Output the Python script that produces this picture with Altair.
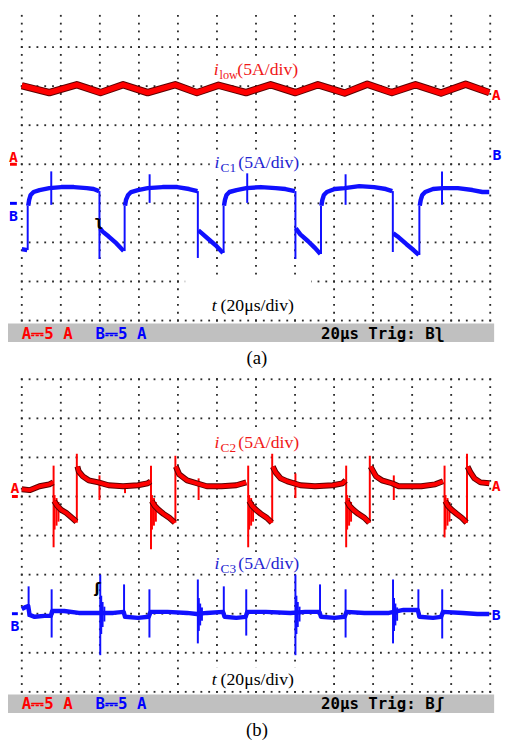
import altair as alt
import pandas as pd

# ---------------- oscilloscope screen ----------------
US_PER_DIV = 20            # time base, us/div
A_PER_DIV = 5.0            # both channels, A/div
N_HDIV, N_VDIV, MINOR = 12, 8, 5
X_DOMAIN = [-7.06, 242.0]  # us across the page width
PANEL_W = 494
H_A, H_B = 364, 377
YDOM_A = [-5.320, 3.849]   # screen divisions (0 = centre line)
YDOM_B = [-5.312, 4.184]
ZERO_A = {"A": 0.0, "B": -1.0}   # channel zero levels, capture (a)
ZERO_B = {"A": 1.0, "B": -2.0}   # channel zero levels, capture (b)

RED, DARKRED, BLUE = "#ff0000", "#5a0000", "#1010ff"
LBL_RED, LBL_BLUE = "#f01818", "#2424d0"
SERIF, MONO = "Liberation Serif", "DejaVu Sans Mono"

# ---------------- capture (a) ----------------
ilow_t = [0, 14.1, 28.2, 40.3, 51.9, 64.5, 78.6, 89.7, 100.8, 114.9, 127.5, 140.2,
          151.7, 165.4, 177.0, 189.6, 201.7, 214.8, 227.4, 239.5]
ilow_a = [10.05, 9.17, 10.18, 9.17, 10.18, 9.17, 10.18, 9.17, 10.11, 9.17, 10.18, 9.17,
          10.18, 9.11, 10.24, 9.17, 10.18, 9.11, 10.24, 9.17]

ic1_t = [0, 2.77,
         3.28, 3.78, 4.54, 6.05, 9.08, 14.1, 20.2, 26.7, 33.3, 36.8, 39.6,
         40.1, 41.3, 44.4, 48.4, 52.2,
         52.9, 53.4, 54.5, 56.0, 59.5, 64.5, 72.1, 79.7, 85.7, 90.0,
         90.5, 92.3, 96.3, 99.8, 103.1,
         103.6, 104.1, 104.9, 106.4, 110.0, 115.0, 122.5, 130.1, 135.1, 139.9,
         140.4, 142.7, 146.7, 150.3, 153.0,
         153.5, 154.0, 154.8, 156.3, 160.3, 165.4, 172.9, 180.5, 186.5, 189.8,
         190.3, 193.1, 197.1, 200.7, 203.4,
         203.9, 204.4, 205.2, 206.7, 210.7, 215.8, 223.4, 230.9, 236.0, 239.5]
ic1_a = [-5.86, -5.98,
         -0.31, 0.44, 1.07, 1.45, 1.70, 1.95, 2.08, 2.08, 1.95, 1.83, 1.57,
         -3.21, -3.59, -4.22, -5.10, -6.11,
         -0.31, 0.44, 1.07, 1.45, 1.70, 1.95, 2.08, 2.08, 1.83, 1.57,
         -3.46, -3.84, -4.72, -5.48, -6.36,
         -0.31, 0.44, 1.07, 1.45, 1.70, 1.95, 2.08, 1.95, 1.83, 1.57,
         -3.21, -3.97, -4.85, -5.73, -6.49,
         -0.31, 0.44, 1.07, 1.45, 1.83, 1.95, 2.20, 2.08, 1.83, 1.57,
         -3.84, -4.35, -5.23, -5.98, -6.61,
         -0.31, 0.44, 1.07, 1.45, 1.83, 1.95, 1.95, 1.70, 1.45, 1.45]
ic1_seg_len = [2, 11, 5, 10, 5, 10, 5, 10, 5, 10]
ic1_edge_t = [3.03, 15.1, 39.8, 52.7, 65.5, 90.2, 103.4, 115.5, 140.2, 153.3, 165.9, 190.1, 203.7, 215.3]
ic1_edge_hi = [-0.31, 4.09, 1.57, -0.31, 3.72, 1.57, -0.31, 3.84, 1.57, -0.31, 3.72, 1.57, -0.31, 4.09]
ic1_edge_lo = [-5.98, -0.19, -7.12, -6.11, 0.06, -6.99, -6.36, 0.06, -7.12, -6.49, -0.19, -6.23, -6.61, -0.19]

# ---------------- capture (b) ----------------
ic2_t = [0, 4.03, 9.08, 14.1, 16.1,
         16.6, 18.2, 20.2, 22.7, 25.7, 28.0,
         28.5, 29.2, 31.3, 34.3, 39.3, 44.4, 51.9, 59.5, 64.5, 66.0,
         66.6, 68.1, 70.1, 72.6, 75.6, 78.4,
         78.9, 80.7, 84.7, 89.7, 94.8, 102.4, 109.9, 115.0,
         116.5, 118.0, 120.0, 122.5, 125.5, 128.1,
         128.6, 130.1, 132.6, 136.1, 142.7, 150.2, 159.3, 164.4, 165.9,
         166.6, 167.9, 169.9, 172.4, 175.5, 178.0,
         178.7, 181.5, 184.5, 189.6, 193.1, 204.7, 211.8, 215.8,
         217.0, 218.3, 220.3, 222.8, 225.4, 227.9,
         228.4, 229.9, 231.9, 235.0, 239.5]
ic2_a = [0.93, 0.81, 1.31, 1.56, 1.81,
         -0.58, -1.21, -1.71, -2.09, -2.72, -3.22,
         3.83, 3.20, 2.57, 2.07, 1.81, 1.44, 1.31, 1.44, 1.69, 1.94,
         -0.58, -1.21, -1.71, -2.22, -2.72, -3.35,
         3.83, 2.82, 2.07, 1.69, 1.31, 1.31, 1.44, 1.81,
         -0.58, -1.21, -1.71, -2.22, -2.72, -3.35,
         3.83, 3.07, 2.32, 1.94, 1.44, 1.31, 1.44, 1.69, 2.07,
         -0.58, -1.21, -1.71, -2.22, -2.72, -3.35,
         3.83, 2.57, 2.07, 1.69, 1.31, 1.31, 1.56, 1.94,
         -0.58, -1.21, -1.71, -2.22, -2.72, -3.35,
         3.83, 3.07, 2.32, 1.81, 1.69]
ic2_seg_len = [5, 6, 10, 6, 8, 6, 9, 6, 8, 6, 5]
ic2_edge_t = [16.3, 28.2, 39.8, 52.9, 66.2, 78.7, 90.6, 116.0, 128.3, 140.2, 166.2, 178.3, 190.6, 216.6, 228.1]
ic2_edge_hi = [3.95, 5.47, 2.70, 1.31, 3.95, 5.21, 2.32, 3.95, 5.47, 2.95, 3.95, 5.21, 2.70, 3.95, 5.47]
ic2_edge_lo = [-6.50, -3.35, -0.45, 0.43, -6.75, -3.35, -0.45, -6.50, -3.35, -0.20, -6.50, -3.35, -0.45, -5.24, -3.35]
ic2_ring_t = [16.8, 17.8, 18.8, 66.7, 67.7, 68.7, 116.5, 117.5, 118.5, 166.7, 167.7, 168.7, 217.1, 218.1, 219.1]
ic2_ring_hi = [0.18, -0.20, -0.70, 0.18, -0.20, -0.70, 0.18, -0.20, -0.70, 0.18, -0.20, -0.70, 0.18, -0.20, -0.70]
ic2_ring_lo = [-4.23, -3.73, -3.22, -4.23, -3.73, -3.22, -4.23, -3.73, -3.22, -4.23, -3.73, -3.22, -4.23, -3.73, -3.22]

ic3_t = [0, 2.0, 3.3, 4.0, 6.6, 11.6, 14.9, 15.6, 21.7, 29.2, 39.3, 46.9, 52.2, 52.9, 59.5,
         65.0, 66.0, 74.6, 84.7, 89.7, 94.8, 103.1, 103.9, 109.9, 114.7, 115.5, 125.0, 137.6,
         145.2, 152.5, 153.3, 160.3, 165.4, 166.4, 175.5, 188.1, 195.6, 202.9, 203.7, 210.7,
         214.8, 215.8, 225.9, 233.4, 239.5]
ic3_a = [0.60, 0.86, 0.98, -0.15, -0.40, -0.28, -0.28, 0.35, 0.35, 0.10, 0.10, 0.10, 0.23, -0.40, -0.53,
         -0.40, 0.23, 0.23, 0.10, -0.03, 0.10, 0.23, -0.40, -0.53, -0.40, 0.23, 0.23, 0.10,
         0.23, 0.23, -0.40, -0.53, -0.40, 0.23, 0.10, 0.10, 0.48, 0.48, -0.40, -0.53,
         -0.40, 0.23, 0.10, -0.03, -0.03]
ic3_spk_t = [3.5, 15.3, 40.2, 52.4, 65.4, 90.2, 103.5, 115.0, 140.2, 152.8, 165.9, 190.2, 203.2, 215.4]
ic3_spk_hi = [3.50, 3.12, 5.01, 3.75, 3.12, 4.38, 3.50, 3.12, 5.01, 3.75, 3.12, 4.38, 3.12, 3.12]
ic3_spk_lo = [-0.40, -3.05, -5.31, -0.45, -3.05, -3.80, -0.45, -2.80, -5.31, -0.45, -3.05, -3.80, -0.45, -3.17]
ic3_ring_t = [40.7, 41.4, 42.3, 90.7, 91.4, 92.3, 140.7, 141.4, 142.3, 190.7, 191.4, 192.3]
ic3_ring_hi = [2.3, 1.5, 0.9, 2.0, 1.3, 0.8, 2.3, 1.5, 0.9, 2.0, 1.3, 0.8]
ic3_ring_lo = [-2.6, -1.7, -1.0, -2.2, -1.5, -0.9, -2.6, -1.7, -1.0, -2.2, -1.5, -0.9]


# ---------------- helpers ----------------
def enc(ydom):
    return dict(
        x=alt.X("t:Q", scale=alt.Scale(domain=X_DOMAIN, nice=False, zero=False), axis=None),
        y=alt.Y("ys:Q", scale=alt.Scale(domain=ydom, nice=False, zero=False), axis=None),
    )


def dots(ydom):
    step = US_PER_DIV / MINOR
    rows = [dict(t=i * step, ys=d - N_VDIV / 2) for d in range(N_VDIV + 1) for i in range(N_HDIV * MINOR + 1)]
    cols = [dict(t=c * US_PER_DIV, ys=-N_VDIV / 2 + j / MINOR) for c in range(N_HDIV + 1) for j in range(N_VDIV * MINOR + 1)]
    df = pd.DataFrame(rows + cols)
    df = df[(df.ys <= ydom[1]) & (df.ys >= ydom[0])]
    return alt.Chart(df).mark_square(size=3.5, color="#2a2a2a", opacity=1).encode(**enc(ydom))


def seg_ids(lengths):
    out = []
    for k, n in enumerate(lengths):
        out += [k] * n
    return out


def trace(t, a, zero, ydom, color, width, seg=None, outline=None):
    df = pd.DataFrame({"t": t, "ys": [zero + v / A_PER_DIV for v in a],
                       "seg": seg if seg is not None else [0] * len(t)})
    layers = []
    if outline:
        layers.append(alt.Chart(df).mark_line(color=outline, strokeWidth=width + 2, strokeJoin="round")
                      .encode(detail="seg:N", **enc(ydom)))
    layers.append(alt.Chart(df).mark_line(color=color, strokeWidth=width, strokeJoin="round")
                  .encode(detail="seg:N", **enc(ydom)))
    return layers


def spikes(t, hi, lo, zero, ydom, color, width=1.8):
    df = pd.DataFrame({"t": t, "ys": [zero + v / A_PER_DIV for v in hi],
                       "ys2": [zero + v / A_PER_DIV for v in lo]})
    return alt.Chart(df).mark_rule(color=color, strokeWidth=width).encode(y2="ys2:Q", **enc(ydom))


def box(t0, t1, y0, y1, ydom, color="white"):
    df = pd.DataFrame({"t": [t0], "t2": [t1], "ys": [y0], "ys2": [y1]})
    return alt.Chart(df).mark_rect(color=color).encode(x2="t2:Q", y2="ys2:Q", **enc(ydom))


def hline(t0, t1, y, ydom, color, width=3):
    df = pd.DataFrame({"t": [t0], "t2": [t1], "ys": [y]})
    return alt.Chart(df).mark_rule(color=color, strokeWidth=width).encode(x2="t2:Q", **enc(ydom))


def piece(t, ys, text, ydom, dx=0, dy=0, size=18, style="normal", color="black",
          font=SERIF, weight="normal", align="left", baseline="alphabetic"):
    df = pd.DataFrame({"t": [t], "ys": [ys], "s": [text]})
    return alt.Chart(df).mark_text(align=align, baseline=baseline, dx=dx, dy=dy, fontSize=size,
                                   fontStyle=style, font=font, fontWeight=weight, color=color
                                   ).encode(text="s:N", **enc(ydom))


def rich(t, ys, lead, sub, main, ydom, color, main_dx=24, sub_size=13.5):
    out = [piece(t, ys, lead, ydom, style="italic", color=color)]
    if sub:
        out.append(piece(t, ys, sub, ydom, dx=6, dy=4, size=sub_size, color=color))
    out.append(piece(t, ys, main, ydom, dx=main_dx, color=color))
    return out


def status(ys_top, ys_bot, ys_txt, trig, ydom):
    return [
        box(X_DOMAIN[0], X_DOMAIN[1], ys_top, ys_bot, ydom, color="#c0c0c0"),
        piece(0, ys_txt, "A\u23935 A", ydom, size=16, font=MONO, weight="bold", color=RED, baseline="middle"),
        piece(37.8, ys_txt, "B\u23935 A", ydom, size=16, font=MONO, weight="bold", color="#0000ff", baseline="middle"),
        piece(153.3, ys_txt, "20\u03bcs Trig: B" + trig, ydom, size=16, font=MONO, weight="bold", color="black", baseline="middle"),
    ]


def mark(t, ys, s, ydom, color, baseline="alphabetic"):
    return piece(t, ys, s, ydom, size=15, font=MONO, weight="bold", color=color, align="center", baseline=baseline)


# ---------------- panel (a) ----------------
ya = YDOM_A
layers_a = [dots(ya),
            box(96.3, 145.2, 2.69, 2.11, ya), box(96.3, 143.2, 0.30, -0.23, ya),
            box(83.7, 148.2, -2.93, -3.93, ya)]
layers_a += trace(ilow_t, ilow_a, ZERO_A["A"], ya, RED, 5.5, outline=DARKRED)
layers_a += [spikes(ic1_edge_t, ic1_edge_hi, ic1_edge_lo, ZERO_A["B"], ya, BLUE, 2)]
layers_a += trace(ic1_t, ic1_a, ZERO_A["B"], ya, BLUE, 4.5, seg=seg_ids(ic1_seg_len))
layers_a += rich(98.3, 2.287, "i", "low", "(5A/div)", ya, LBL_RED, sub_size=12.5)
layers_a += rich(98.8, -0.106, "i", "C1", "(5A/div)", ya, LBL_BLUE)
layers_a += rich(97.3, -3.758, "t", None, "(20\u03bcs/div)", ya, "black", main_dx=9)
layers_a += status(-4.073, -4.552, -4.350, "\u0285", ya)
layers_a += [piece(120.5, -5.118, "(a)", ya, size=19, align="center"),
             hline(-6.05, -2.52, ZERO_A["A"], ya, RED), mark(-4.29, 0.07, "A", ya, RED),
             hline(-6.05, -2.52, ZERO_A["B"], ya, "#0000ff"), mark(-4.29, -1.441, "B", ya, "#0000ff"),
             mark(243.0, 1.783, "A", ya, RED, "middle"), mark(243.5, 0.247, "B", ya, "#0000ff", "middle"),
             piece(39.3, -1.453, "\u0285", ya, size=15, font="DejaVu Sans", weight="bold", align="center", baseline="middle")]
panel_a = alt.layer(*layers_a).properties(width=PANEL_W, height=H_A)

# ---------------- panel (b) ----------------
yb = YDOM_B
layers_b = [dots(yb),
            box(96.3, 143.2, 2.67, 2.09, yb), box(96.3, 143.2, -0.50, -0.98, yb),
            box(92.3, 146.2, -3.37, -3.93, yb)]
layers_b += [spikes(ic2_edge_t, ic2_edge_hi, ic2_edge_lo, ZERO_B["A"], yb, RED, 2),
             spikes(ic2_ring_t, ic2_ring_hi, ic2_ring_lo, ZERO_B["A"], yb, RED, 2)]
layers_b += trace(ic2_t, ic2_a, ZERO_B["A"], yb, RED, 4, seg=seg_ids(ic2_seg_len), outline=DARKRED)
layers_b += [spikes(ic3_spk_t, ic3_spk_hi, ic3_spk_lo, ZERO_B["B"], yb, BLUE, 2),
             spikes(ic3_ring_t, ic3_ring_hi, ic3_ring_lo, ZERO_B["B"], yb, BLUE, 2)]
layers_b += trace(ic3_t, ic3_a, ZERO_B["B"], yb, BLUE, 4.5)
layers_b += rich(98.8, 2.244, "i", "C2", "(5A/div)", yb, LBL_RED)
layers_b += rich(98.8, -0.854, "i", "C3", "(5A/div)", yb, LBL_BLUE)
layers_b += rich(97.3, -3.826, "t", None, "(20\u03bcs/div)", yb, "black", main_dx=9)
layers_b += status(-4.066, -4.544, -4.305, "\u0283", yb)
layers_b += [piece(120.5, -5.136, "(b)", yb, size=19, align="center"),
             hline(-5.04, -2.02, ZERO_B["A"], yb, RED), mark(-3.53, 1.086, "A", yb, RED),
             hline(-5.04, -2.02, ZERO_B["B"], yb, "#0000ff"), mark(-3.53, -2.451, "B", yb, "#0000ff"),
             mark(243.0, 1.262, "A", yb, RED, "middle"), mark(243.0, -2.042, "B", yb, "#0000ff", "middle"),
             piece(38.8, -1.333, "\u0283", yb, size=15, font="DejaVu Sans", weight="bold", align="center", baseline="middle")]
panel_b = alt.layer(*layers_b).properties(width=PANEL_W, height=H_B)

chart = alt.vconcat(panel_a, panel_b, spacing=0, padding=0, background="white").configure_view(stroke=None)
chart.save("out.html", embed_options={"renderer": "svg", "actions": False})
